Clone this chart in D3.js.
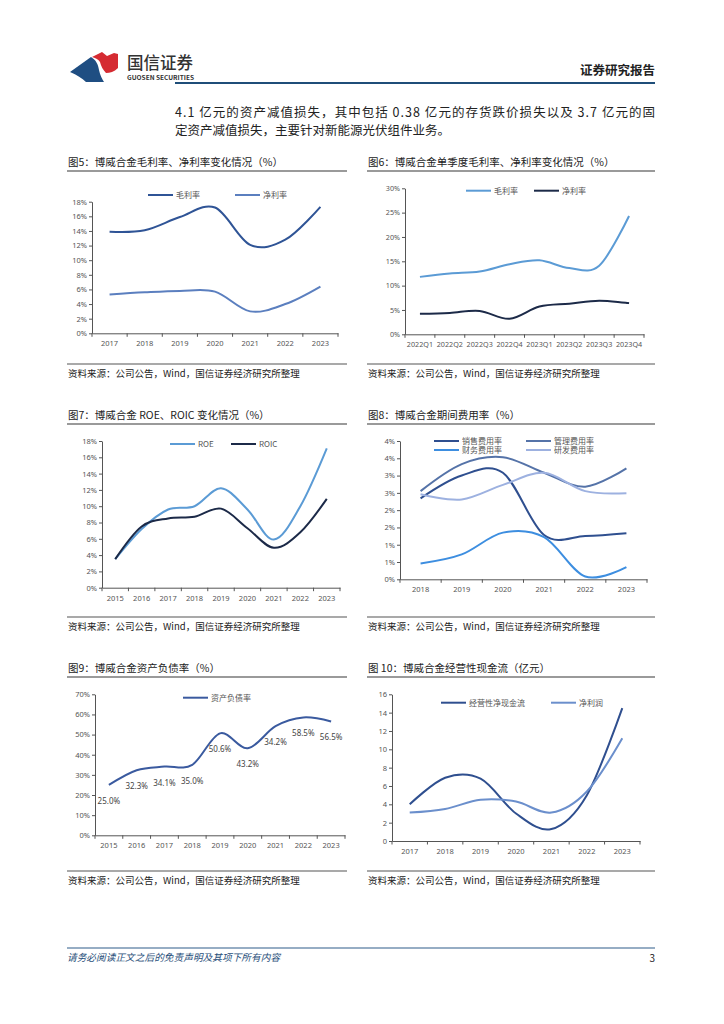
<!DOCTYPE html>
<html>
<head>
<meta charset="utf-8">
<script src="https://cdn.jsdelivr.net/npm/d3@7"></script>
<style>
  body { margin: 0; background: #fff; }
  svg text { font-family: "Noto Sans CJK SC", "Noto Sans", sans-serif; }
</style>
</head>
<body>
<svg id="page" width="724" height="1024"></svg>
<script>
// ---- data ----
const years5 = ['2017', '2018', '2019', '2020', '2021', '2022', '2023'];
const gross5 = [13.9, 14.1, 15.9, 17.2, 12.1, 12.8, 17.3];
const net5 = [5.3, 5.6, 5.8, 5.7, 3.0, 4.0, 6.4];

const quarters6 = ['2022Q1', '2022Q2', '2022Q3', '2022Q4', '2023Q1', '2023Q2', '2023Q3', '2023Q4'];
const gross6 = [11.8, 12.5, 12.9, 14.4, 15.2, 13.6, 14.1, 24.3];
const net6 = [4.2, 4.4, 4.8, 3.2, 5.7, 6.3, 6.9, 6.4];

const years7 = ['2015', '2016', '2017', '2018', '2019', '2020', '2021', '2022', '2023'];
const roe7 = [3.5, 7.2, 9.6, 10.0, 12.2, 9.6, 5.9, 10.0, 17.1];
const roic7 = [3.5, 7.5, 8.5, 8.7, 9.7, 7.3, 4.9, 6.8, 10.9];

const years8 = ['2018', '2019', '2020', '2021', '2022', '2023'];
const sales8 = [2.34, 3.0, 3.08, 1.28, 1.25, 1.33];
const admin8 = [2.55, 3.33, 3.53, 3.08, 2.68, 3.21];
const fin8 = [0.46, 0.72, 1.35, 1.22, 0.08, 0.35];
const rd8 = [2.46, 2.31, 2.73, 3.08, 2.55, 2.49];

const years9 = ['2015', '2016', '2017', '2018', '2019', '2020', '2021', '2022', '2023'];
const debt9 = [25.0, 32.3, 34.1, 35.0, 50.6, 43.2, 54.2, 58.5, 56.5];
// labels exactly as printed in the report
const debtLabels9 = ['25.0%', '32.3%', '34.1%', '35.0%', '50.6%', '43.2%', '34.2%', '58.5%', '56.5%'];

const years10 = ['2017', '2018', '2019', '2020', '2021', '2022', '2023'];
const ocf10 = [4.0, 6.9, 6.8, 3.0, 1.3, 5.0, 14.5];
const np10 = [3.1, 3.5, 4.5, 4.3, 3.1, 5.4, 11.2];

const source = '资料来源：公司公告，Wind，国信证券经济研究所整理';

const svg = d3.select('#page');

// ---- page header ----
// logo
svg.append('path')
  .attr('d', 'M70,72 L91,57 C96,60 98,64 99,70 C100,75 102,79 104,82 L86,82 C82,78 77,75 70,72 Z')
  .style('fill', '#1f4e82');
svg.append('path')
  .attr('d', 'M92,57 L102,52 L107,56 L114,53 L118,54 L118,68 C114,72 110,73 106,73 C103,70 101,66 100,62 C98,59 95,58 92,57 Z')
  .style('fill', '#d52b32');
svg.append('text').attr('x', 127).attr('y', 68.5)
  .style('font-size', '16.5px').style('fill', '#333').style('font-weight', 500)
  .text('国信证券');
svg.append('text').attr('x', 127).attr('y', 80)
  .attr('textLength', 67).attr('lengthAdjust', 'spacingAndGlyphs')
  .style('font-size', '6.5px').style('font-weight', 'bold').style('fill', '#333')
  .text('GUOSEN SECURITIES');

svg.append('text').attr('x', 655).attr('y', 74.5).attr('text-anchor', 'end')
  .style('font-size', '12.5px').style('font-weight', 'bold').style('fill', '#222')
  .text('证券研究报告');
svg.append('line').attr('x1', 175).attr('x2', 655).attr('y1', 83).attr('y2', 83)
  .style('stroke', '#1f4e79').style('stroke-width', 2);

svg.append('text').attr('x', 175).attr('y', 116.5)
  .attr('textLength', 480).attr('lengthAdjust', 'spacing')
  .style('font-size', '12.5px').style('fill', '#222')
  .text('4.1 亿元的资产减值损失，其中包括 0.38 亿元的存货跌价损失以及 3.7 亿元的固');
svg.append('text').attr('x', 175).attr('y', 134.5)
  .style('font-size', '12.5px').style('fill', '#222')
  .text('定资产减值损失，主要针对新能源光伏组件业务。');

// ---- footer ----
svg.append('line').attr('x1', 67).attr('x2', 655).attr('y1', 948).attr('y2', 948)
  .style('stroke', '#2e5c8a').style('stroke-width', 1.2);
svg.append('text').attr('x', 67).attr('y', 961)
  .style('font-size', '9.7px').style('font-style', 'italic').style('fill', '#1f4e79')
  .text('请务必阅读正文之后的免责声明及其项下所有内容');
svg.append('text').attr('x', 655).attr('y', 962).attr('text-anchor', 'end')
  .style('font-size', '10px').style('fill', '#222')
  .text('3');

// ---- generic chart ----
function drawChart(cfg) {
  const g = svg.append('g');

  // title + rule
  g.append('text').attr('x', cfg.left).attr('y', cfg.titleY + 4)
    .style('font-size', '10.5px').style('fill', '#222')
    .text(cfg.title);
  g.append('line').attr('x1', cfg.left - 1).attr('x2', cfg.right)
    .attr('y1', cfg.titleY + 9).attr('y2', cfg.titleY + 9)
    .style('stroke', '#9a9a9a').style('stroke-width', 2);

  // source rule + text
  g.append('line').attr('x1', cfg.left - 1).attr('x2', cfg.right)
    .attr('y1', cfg.sourceY).attr('y2', cfg.sourceY)
    .style('stroke', '#555').style('stroke-width', 1.2);
  g.append('text').attr('x', cfg.left).attr('y', cfg.sourceY + 13)
    .style('font-size', '9.5px').style('fill', '#222')
    .text(source);

  var x = d3.scaleBand().domain(cfg.cats).range([cfg.x0, cfg.x1]);
  var y = d3.scaleLinear().domain([0, cfg.yMax]).range([cfg.yBot, cfg.yTop]);

  // y axis
  var yAxis = g.append('g')
    .attr('transform', 'translate(' + cfg.x0 + ',0)')
    .call(d3.axisLeft(y)
      .tickValues(d3.range(0, cfg.yMax + cfg.step / 2, cfg.step))
      .tickSize(3).tickSizeOuter(0).tickPadding(2)
      .tickFormat(cfg.fmt));

  // x axis (labels at band centres, ticks at band edges)
  var xAxis = g.append('g')
    .attr('transform', 'translate(0,' + cfg.yBot + ')')
    .call(d3.axisBottom(x).tickSize(0).tickSizeOuter(0).tickPadding(7.5));
  xAxis.selectAll('.edge')
    .data(cfg.cats.map(function(c) { return x(c); }).concat([cfg.x1]))
    .enter().append('line').attr('class', 'edge')
    .attr('x1', function(d) { return d; }).attr('x2', function(d) { return d; })
    .attr('y1', 0).attr('y2', 3.5)
    .style('stroke', '#555');

  [yAxis, xAxis].forEach(function(a) {
    a.select('.domain').style('stroke', '#555').style('stroke-width', 1);
    a.selectAll('.tick line').style('stroke', '#555');
    a.selectAll('text').style('font-size', cfg.tickFont || '7.5px').style('fill', '#555')
      .style('font-family', '"Noto Sans", "Noto Sans CJK SC", sans-serif');
  });

  // lines
  var line = d3.line()
    .x(function(d, i) { return x(cfg.cats[i]) + x.bandwidth() / 2; })
    .y(function(d) { return y(d); })
    .curve(d3.curveCardinal.tension(0));

  cfg.series.forEach(function(s) {
    g.append('path').datum(s.values)
      .attr('d', line)
      .style('fill', 'none')
      .style('stroke', s.color)
      .style('stroke-width', 2);
  });

  // point labels (only for the debt ratio chart)
  if (cfg.labels) {
    g.selectAll('.plabel')
      .data(cfg.series[0].values)
      .enter().append('text').attr('class', 'plabel')
      .attr('x', function(d, i) { return x(cfg.cats[i]) + x.bandwidth() / 2; })
      .attr('y', function(d) { return y(d) + 19; })
      .attr('text-anchor', 'middle')
      .style('font-size', '8px').style('fill', '#444')
      .style('font-family', '"Noto Sans", sans-serif')
      .text(function(d, i) { return cfg.labels[i]; });
  }

  // legend
  cfg.series.forEach(function(s) {
    g.append('line')
      .attr('x1', s.lx).attr('x2', s.lx + 25)
      .attr('y1', s.ly).attr('y2', s.ly)
      .style('stroke', s.color).style('stroke-width', 2);
    g.append('text')
      .attr('x', s.lx + 28).attr('y', s.ly + 3)
      .style('font-size', '8px').style('fill', '#555')
      .text(s.name);
  });
}

var pct = function(d) { return d + '%'; };

drawChart({
  title: '图5：博威合金毛利率、净利率变化情况（%）',
  left: 68, right: 347, titleY: 162, sourceY: 364,
  cats: years5, x0: 92, x1: 338, yTop: 201.7, yBot: 333.3, yMax: 18, step: 2, fmt: pct,
  series: [
    {name: '毛利率', values: gross5, color: '#2f5496', lx: 148, ly: 195},
    {name: '净利率', values: net5, color: '#5b7fbf', lx: 235, ly: 195}
  ]
});

drawChart({
  title: '图6：博威合金单季度毛利率、净利率变化情况（%）',
  left: 368, right: 655, titleY: 162, sourceY: 364,
  cats: quarters6, x0: 405, x1: 644, yTop: 188.3, yBot: 334.3, yMax: 30, step: 5, fmt: pct,
  tickFont: '7.2px',
  series: [
    {name: '毛利率', values: gross6, color: '#5b9bd5', lx: 466, ly: 190.7},
    {name: '净利率', values: net6, color: '#1c2a48', lx: 534, ly: 190.7}
  ]
});

drawChart({
  title: '图7：博威合金 ROE、ROIC 变化情况（%）',
  left: 68, right: 347, titleY: 415, sourceY: 617,
  cats: years7, x0: 102, x1: 340, yTop: 441, yBot: 587.7, yMax: 18, step: 2, fmt: pct,
  series: [
    {name: 'ROE', values: roe7, color: '#5b9bd5', lx: 170, ly: 444},
    {name: 'ROIC', values: roic7, color: '#1c2a48', lx: 231, ly: 444}
  ]
});

drawChart({
  title: '图8：博威合金期间费用率（%）',
  left: 368, right: 655, titleY: 415, sourceY: 617,
  cats: years8, x0: 400, x1: 647, yTop: 441, yBot: 579.3, yMax: 4, step: 0.5,
  fmt: function(d) { return Math.round(d) + '%'; },
  series: [
    {name: '销售费用率', values: sales8, color: '#2f4f8f', lx: 434, ly: 441},
    {name: '管理费用率', values: admin8, color: '#5573a8', lx: 526, ly: 441},
    {name: '财务费用率', values: fin8, color: '#3d8ee0', lx: 434, ly: 450},
    {name: '研发费用率', values: rd8, color: '#9db1e0', lx: 526, ly: 450}
  ]
});

drawChart({
  title: '图9：博威合金资产负债率（%）',
  left: 68, right: 347, titleY: 668, sourceY: 871,
  cats: years9, x0: 95, x1: 345, yTop: 694.3, yBot: 835.3, yMax: 70, step: 10, fmt: pct,
  labels: debtLabels9,
  series: [
    {name: '资产负债率', values: debt9, color: '#3a5a9f', lx: 183, ly: 697.7}
  ]
});

drawChart({
  title: '图 10：博威合金经营性现金流（亿元）',
  left: 368, right: 655, titleY: 668, sourceY: 871,
  cats: years10, x0: 392, x1: 640, yTop: 694.3, yBot: 841, yMax: 16, step: 2,
  fmt: function(d) { return d; },
  series: [
    {name: '经营性净现金流', values: ocf10, color: '#2f4f8f', lx: 441, ly: 702.7},
    {name: '净利润', values: np10, color: '#6b8fcc', lx: 551, ly: 702.7}
  ]
});
</script>
</body>
</html>
